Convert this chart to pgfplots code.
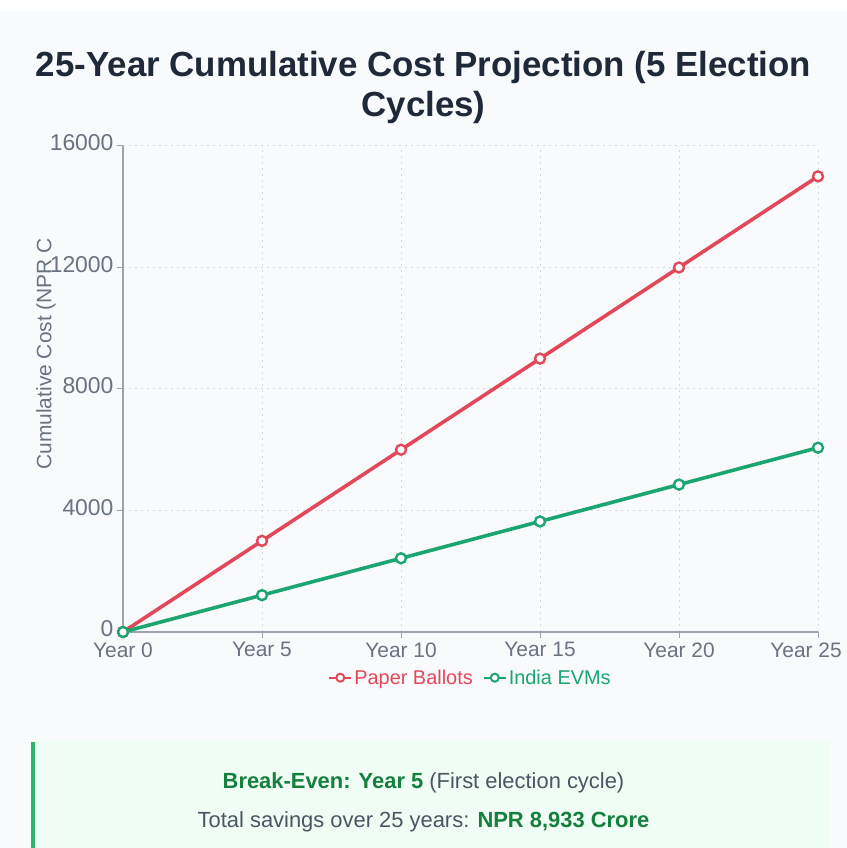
\documentclass[border=0pt]{standalone}
\usepackage{pgfplots}
\pgfplotsset{compat=1.18}
\usepackage{fontspec}
\setmainfont{Liberation Sans}
\definecolor{bgc}{HTML}{F8FAFC}
\definecolor{titlec}{HTML}{1F2937}
\definecolor{tickc}{HTML}{6B7280}
\definecolor{gridc}{HTML}{D5D8DD}
\definecolor{axc}{HTML}{9CA3AF}
\definecolor{redc}{HTML}{E3485A}
\definecolor{greenc}{HTML}{1AA571}
\definecolor{boxbg}{HTML}{F0FDF4}
\definecolor{boxbar}{HTML}{2DB36A}
\definecolor{boxgreen}{HTML}{15803D}
\definecolor{boxgray}{HTML}{4B5563}
\begin{document}
\begin{tikzpicture}
\useasboundingbox (0,0) rectangle (847bp,848bp);
\fill[bgc] (0,0) rectangle (847bp,848bp);
\fill[white] (0,838bp) rectangle (847bp,848bp);
\node[font=\fontsize{35}{40}\selectfont\bfseries, text=titlec] at (423.5bp,781bp) {25-Year Cumulative Cost Projection (5 Election};
\node[font=\fontsize{35}{40}\selectfont\bfseries, text=titlec] at (423.5bp,741bp) {Cycles)};
\begin{axis}[
  at={(123bp,216bp)}, anchor=south west,
  scale only axis, width=695bp, height=486bp,
  xmin=0, xmax=25, ymin=0, ymax=16000,
  axis x line=bottom, axis y line=left,
  axis line style={axc, line width=1.2pt, -},
  xtick={0,5,10,15,20},
  xticklabels={Year 0,Year 5,Year 10,Year 15,Year 20},
  extra x ticks={25},
  extra x tick labels={Year 25},
  extra x tick style={xticklabel style={xshift=-12bp}},
  ytick={0,4000,8000,12000,16000},
  yticklabels={0,4000,8000,12000,16000},
  scaled y ticks=false,
  tick align=outside,
  major tick length=6bp,
  tick style={axc, line width=1pt},
  ticklabel style={text=tickc},
  xticklabel style={font=\fontsize{21}{24}\selectfont, yshift=-1bp},
  yticklabel style={font=\fontsize{23}{26}\selectfont, yshift=3bp},
  /pgf/number format/assume math mode=true,
  grid=major,
  major grid style={gridc, line width=1pt, dash pattern=on 2bp off 4bp},
  clip=false,
  legend style={at={(0.5,-0.094)}, anchor=center, draw=none, fill=none,
    font=\fontsize{20}{23}\selectfont, legend columns=2,
    /tikz/every even column/.append style={column sep=8bp}},
  legend image code/.code={
    \draw[#1, line width=2pt] (0bp,0bp) -- (22bp,0bp);
    \draw[#1, line width=2pt, fill=white] (11bp,0bp) circle (4bp);
  },
]
\addplot[redc, line width=3.6pt, mark=*, mark options={fill=white, line width=2.4pt, draw=redc}, mark size=5bp]
  coordinates {(0,0) (5,3000) (10,6000) (15,9000) (20,12000) (25,15000)};
\addlegendentry{\textcolor{redc}{Paper Ballots}}
\addplot[greenc, line width=3.6pt, mark=*, mark options={fill=white, line width=2.4pt, draw=greenc}, mark size=5bp]
  coordinates {(0,0) (5,1213) (10,2427) (15,3640) (20,4853) (25,6067)};
\addlegendentry{\textcolor{greenc}{India EVMs}}
\end{axis}
\node[rotate=90, anchor=west, font=\fontsize{21}{24}\selectfont, text=tickc] at (46bp,375bp) {Cumulative Cost (NPR C};
\fill[boxbg] (30bp,0) rectangle (830bp,108bp);
\fill[boxbar] (31bp,0) rectangle (35bp,106bp);
\node[font=\fontsize{22}{26}\selectfont] at (423.5bp,65bp) {\textcolor{boxgreen}{\bfseries Break-Even: Year 5} \textcolor{boxgray}{(First election cycle)}};
\node[font=\fontsize{22}{26}\selectfont] at (423.5bp,26bp) {\textcolor{boxgray}{Total savings over 25 years:} \textcolor{boxgreen}{\bfseries NPR 8,933 Crore}};
\end{tikzpicture}
\end{document}
